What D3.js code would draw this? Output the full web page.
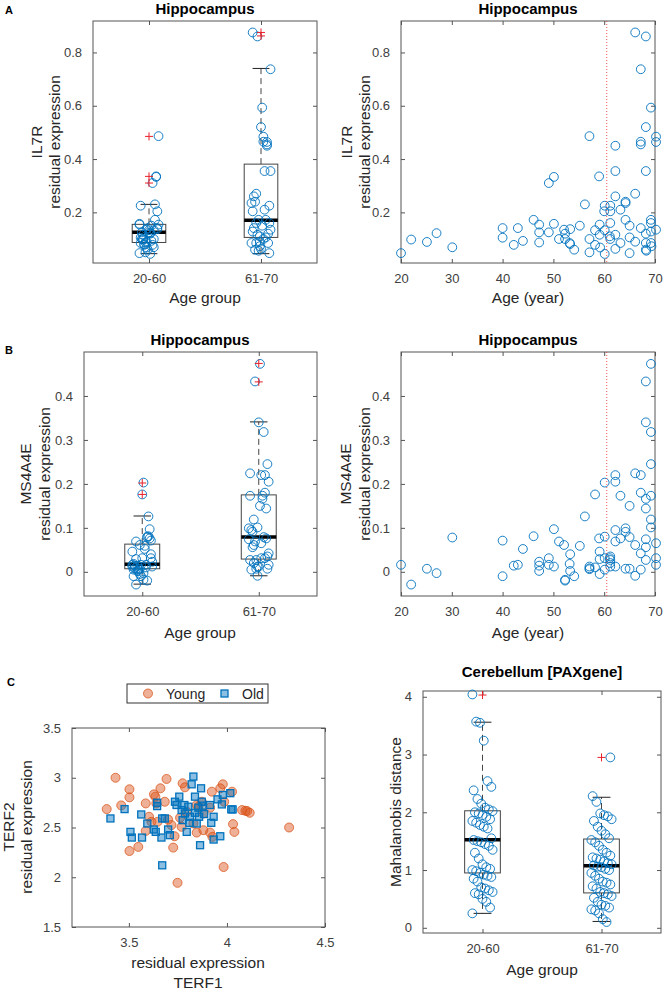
<!DOCTYPE html>
<html>
<head>
<meta charset="utf-8">
<title>Age and expression</title>
<style>
    body { margin: 0; background: #fff; }
    svg text { font-family: "Liberation Sans", Arial, sans-serif; }
    .tick-label { font-size: 13px; fill: #404040; }
    .axis-label { font-size: 15.5px; fill: #262626; text-anchor: middle; }
    .title { font-size: 15px; font-weight: bold; fill: #000; text-anchor: middle; }
    .letter { font-size: 11px; font-weight: bold; fill: #000; }
</style>
</head>
<body>
<svg id="fig" width="664" height="992"></svg>
<script src="https://d3js.org/d3.v7.min.js"></script>
<script>
// ---- data ----
var groups = ["20-60", "61-70"];

// A: IL7R residual expression vs age (hippocampus)
var ageA = [20, 22, 25.1, 27, 30.1, 40, 40, 42.2, 43, 44, 46.1, 47.2, 47.2, 47.2, 49.1, 49.1, 50.1, 50.1, 51.1, 52.1,
    52.3, 52.3, 53.3, 53.2, 53.3, 54.1, 55.2, 56.2, 57.1, 57.1, 57.1, 58.2, 58.2, 59, 59.1, 59.1, 59.2, 60.1, 60.1, 60, 60.1,
    61.2, 61.2, 61.2, 61.1, 61.2, 62.2, 62.2, 62.2, 62.2, 62.2, 63.2, 63.2, 64.2, 64.2, 64.2, 65, 65, 65, 66.1, 66.1, 66.1,
    67.2, 67.2, 67.2, 67.2, 68.2, 68.2, 68.2, 68.2, 68.2, 68.2, 68.3, 69.2, 69.2, 69.2, 69.2, 69.2, 69.3, 70.2, 70.2, 70.2];
var il7r = [0.047, 0.098, 0.089, 0.122, 0.069, 0.141, 0.105, 0.078, 0.141, 0.093, 0.172, 0.154, 0.125, 0.087, 0.125, 0.31, 0.333, 0.157, 0.1, 0.135,
    0.12, 0.1, 0.137, 0.085, 0.081, 0.06, 0.15, 0.23, 0.486, 0.1, 0.05, 0.133, 0.078, 0.335, 0.154, 0.116, 0.068, 0.044, 0.133, 0.204, 0.225,
    0.225, 0.204, 0.16, 0.11, 0.1, 0.45, 0.355, 0.26, 0.116, 0.063, 0.21, 0.085, 0.235, 0.24, 0.172, 0.15, 0.106, 0.047, 0.875, 0.27, 0.09,
    0.465, 0.455, 0.737, 0.141, 0.86, 0.52, 0.355, 0.12, 0.085, 0.06, 0.056, 0.593, 0.172, 0.16, 0.128, 0.085, 0.073, 0.484, 0.464, 0.135];
// [lower whisker, q1, median, q3, upper whisker]
var il7rBox = [[0.045, 0.087, 0.125, 0.155, 0.23], [0.045, 0.106, 0.17, 0.381, 0.74]];
var il7rOut = [[0.485, 0.335, 0.31], [0.875, 0.862]];

// B: MS4A4E residual expression vs age (hippocampus)
var ageB = [20, 22, 25.1, 27, 30.1, 40, 40, 42.2, 43, 44, 46.1, 47.2, 47.2, 47.2, 49.1, 49.1, 50.1, 50.1, 51.1, 52.1,
    52.3, 52.3, 53.3, 53.2, 53.3, 54.1, 55.2, 56.2, 57.1, 57.1, 57.1, 58.2, 58.2, 59, 59.1, 59.1, 59.1, 60.1, 60.1, 60.1, 60.1,
    61.2, 61.2, 61.2, 61.2, 61.1, 62.2, 62.2, 62.2, 62.2, 62.2, 63.2, 63.2, 64.2, 64.2, 64.2, 65, 65, 65, 66.1, 66.1, 66.1,
    67.2, 67.2, 67.2, 67.2, 68.2, 68.2, 68.2, 68.2, 68.2, 68.2, 68.2, 69.2, 69.2, 69.2, 69.2, 69.2, 69.2, 70.2, 70.2, 70.2];
var ms4a4e = [0.016, -0.029, 0.007, -0.003, 0.078, 0.071, -0.01, 0.014, 0.016, 0.052, 0.081, 0.023, 0.014, 0.002, 0.031, 0.016, 0.097, 0.012, 0.069, 0.061,
    -0.018, -0.02, 0.04, 0.018, 0.002, -0.01, 0.059, 0.126, 0.012, 0.008, 0.006, 0.176, 0.01, 0.076, 0.046, 0.029, -0.005, 0.203, 0.08, 0.031, 0.005,
    0.035, 0.027, 0.02, 0.012, 0.031, 0.22, 0.205, 0.095, 0.069, 0.012, 0.173, 0.076, 0.099, 0.091, 0.007, 0.15, 0.079, 0.007, 0.224, 0.061, -0.009,
    0.22, 0.18, 0.042, 0.005, 0.433, 0.34, 0.166, 0.144, 0.074, 0.056, 0.027, 0.473, 0.318, 0.245, 0.173, 0.119, 0.101, 0.065, 0.031, 0.016];
var ms4a4eBox = [[-0.028, 0.007, 0.017, 0.063, 0.127], [-0.009, 0.029, 0.079, 0.175, 0.341]];
var ms4a4eOut = [[0.202, 0.176], [0.474, 0.432]];

// C left: TERF1 vs TERF2
var youngTerf1 = [3.387, 3.432, 3.461, 3.503, 3.503, 3.503, 3.548, 3.586, 3.586, 3.603, 3.615, 3.628, 3.635, 3.64, 3.646, 3.661,
    3.683, 3.692, 3.7, 3.717, 3.726, 3.733, 3.748, 3.769, 3.774, 3.786, 3.795, 3.829, 3.846, 3.854, 3.872, 3.88, 3.914, 3.914,
    3.923, 3.926, 3.966, 3.979, 3.983, 3.986, 4.026, 4.031, 4.038, 4.077, 4.094, 4.103, 4.116, 4.317, 3.846, 3.761, 3.88];
var youngTerf2 = [2.685, 3.0, 2.722, 2.884, 2.803, 2.264, 2.305, 2.742, 2.466, 2.608, 2.557, 2.833, 2.81, 2.742, 2.557, 2.894,
    2.759, 2.988, 2.58, 2.524, 2.298, 2.412, 1.944, 2.507, 2.944, 2.904, 2.658, 2.54, 2.449, 2.709, 2.759, 2.473, 2.699, 2.449,
    2.86, 2.406, 2.894, 2.934, 2.103, 2.759, 2.86, 2.534, 2.456, 2.675, 2.668, 2.665, 2.648, 2.5, 2.726, 2.598, 2.641];
var oldTerf1 = [3.406, 3.478, 3.508, 3.515, 3.563, 3.567, 3.594, 3.627, 3.637, 3.644, 3.644, 3.666, 3.67, 3.67, 3.683, 3.7,
    3.709, 3.735, 3.743, 3.757, 3.769, 3.774, 3.783, 3.786, 3.795, 3.803, 3.808, 3.812, 3.82, 3.829, 3.837, 3.837, 3.846,
    3.854, 3.858, 3.863, 3.868, 3.872, 3.877, 3.884, 3.914, 3.92, 3.932, 3.932, 3.952, 3.966, 3.974, 3.979, 4.017, 4.022, 4.029];
var oldTerf2 = [2.591, 2.685, 2.456, 2.399, 2.631, 2.399, 2.54, 2.48, 2.456, 2.749, 2.715, 2.399, 2.591, 2.12, 2.591, 2.48,
    2.423, 2.759, 2.726, 2.81, 2.675, 2.574, 2.726, 2.641, 2.456, 2.709, 2.547, 2.608, 2.934, 3.012, 2.81, 2.648, 2.54,
    2.699, 2.608, 2.322, 2.894, 2.759, 2.719, 2.635, 2.726, 2.547, 2.608, 2.379, 2.783, 2.412, 2.732, 2.827, 2.845, 2.682, 2.682];

// C right: Mahalanobis distance (cerebellum, PAXgene)
var mahalYoung = [4.04, 3.57, 3.55, 3.24, 2.54, 2.44, 2.38, 2.23, 2.15, 2.08, 2.05, 2.02, 2.0, 1.98, 1.95, 1.92, 1.88, 1.85,
    1.82, 1.78, 1.75, 1.72, 1.55, 1.52, 1.5, 1.48, 1.45, 1.42, 1.35, 1.3, 1.2, 1.1, 1.05, 1.02, 1.0, 0.98, 0.95, 0.92, 0.9,
    0.88, 0.85, 0.8, 0.7, 0.68, 0.65, 0.62, 0.6, 0.58, 0.5, 0.45, 0.35, 0.25];
var mahalOld = [2.95, 2.28, 2.18, 1.98, 1.95, 1.93, 1.88, 1.85, 1.75, 1.68, 1.62, 1.55, 1.52, 1.48, 1.42, 1.35, 1.3, 1.25,
    1.22, 1.2, 1.18, 1.15, 1.12, 1.1, 1.08, 1.06, 1.05, 1.02, 1.0, 0.95, 0.9, 0.85, 0.8, 0.78, 0.75, 0.72, 0.68, 0.62, 0.6,
    0.58, 0.55, 0.52, 0.45, 0.4, 0.38, 0.35, 0.32, 0.3, 0.25, 0.15, 0.1];
var mahalBox = [[0.25, 0.95, 1.525, 2.026, 3.56], [0.11, 0.604, 1.076, 1.537, 2.26]];
var mahalOut = [[4.03], [2.95]];

var blue = "#0072BD", orange = "#D95319";
var svg = d3.select("#fig");

// axes box with matlab style inward ticks on all sides
function axesFrame(o) {
    var x = d3.scaleLinear().domain(o.xDomain).range([o.left, o.right]);
    var y = d3.scaleLinear().domain(o.yDomain).range([o.bottom, o.top]);
    var g = svg.append("g");
    var plain = d3.format("~g");
    g.append("g").attr("transform", "translate(0," + o.bottom + ")")
        .call(d3.axisBottom(x).tickValues(o.xTicks).tickSize(-4).tickPadding(11).tickFormat(o.xFormat || plain));
    g.append("g").attr("transform", "translate(0," + o.top + ")")
        .call(d3.axisTop(x).tickValues(o.xTicks).tickSize(-4).tickFormat(""));
    g.append("g").attr("transform", "translate(" + o.left + ",0)")
        .call(d3.axisLeft(y).tickValues(o.yTicks).tickSize(-4).tickPadding(11).tickFormat(o.yFormat || plain));
    g.append("g").attr("transform", "translate(" + o.right + ",0)")
        .call(d3.axisRight(y).tickValues(o.yTicks).tickSize(-4).tickFormat(""));
    g.selectAll(".domain").remove();
    g.selectAll(".tick line").attr("stroke", "#555");
    g.selectAll(".tick text").attr("class", "tick-label");
    g.append("rect")
        .attr("x", o.left).attr("y", o.top)
        .attr("width", o.right - o.left).attr("height", o.bottom - o.top)
        .attr("fill", "none").attr("stroke", "#555");
    var plot = svg.append("g");
    return { x: x, y: y, g: plot, o: o };
}

function yLabel(lines, xs, yc) {
    lines.forEach(function (t, i) {
        svg.append("text").attr("class", "axis-label")
            .attr("transform", "translate(" + xs[i] + "," + yc + ") rotate(-90)")
            .attr("dy", "0.35em").text(t);
    });
}

function textAt(cls, x, y, t) {
    svg.append("text").attr("class", cls).attr("x", x).attr("y", y).text(t);
}

var fmt1 = function (d) { return d === 0 ? "0" : d3.format(".1f")(d); };

// deterministic spread of points around a box centre
function jitter(i) {
    return (((i * 37) % 17) / 16 - 0.5) * 0.17;
}

function drawBoxes(ax, stats, outliers, groupVals) {
    var x = ax.x, y = ax.y, g = ax.g;
    stats.forEach(function (s, i) {
        var c = i + 1;
        var lo = s[0], q1 = s[1], med = s[2], q3 = s[3], hi = s[4];
        [[q3, hi], [q1, lo]].forEach(function (w) {
            g.append("line").attr("x1", x(c)).attr("x2", x(c))
                .attr("y1", y(w[0])).attr("y2", y(w[1]))
                .attr("stroke", "#444").attr("stroke-dasharray", "6,4");
            g.append("line").attr("x1", x(c - 0.075)).attr("x2", x(c + 0.075))
                .attr("y1", y(w[1])).attr("y2", y(w[1])).attr("stroke", "#222");
        });
        g.append("rect").attr("x", x(c - 0.15)).attr("y", y(q3))
            .attr("width", x(c + 0.15) - x(c - 0.15)).attr("height", y(q1) - y(q3))
            .attr("fill", "none").attr("stroke", "#444");
        g.append("line").attr("x1", x(c - 0.15)).attr("x2", x(c + 0.15))
            .attr("y1", y(med)).attr("y2", y(med))
            .attr("stroke", "#000").attr("stroke-width", 3.5);
    });
    groupVals.forEach(function (vals, gi) {
        g.selectAll(null).data(vals).join("circle")
            .attr("cx", function (d, i) { return x(gi + 1 + jitter(i + gi * 5)); })
            .attr("cy", function (d) { return y(d); })
            .attr("r", 4.4).attr("fill", "none").attr("stroke", blue).attr("stroke-width", 0.9);
    });
    outliers.forEach(function (vals, gi) {
        g.selectAll(null).data(vals).join("path")
            .attr("d", "M-4,0H4M0,-4V4")
            .attr("transform", function (d) { return "translate(" + x(gi + 1) + "," + y(d) + ")"; })
            .attr("stroke", "#e8202a").attr("stroke-width", 1);
    });
}

function drawAgeScatter(ax, ages, vals) {
    ax.g.selectAll(null).data(vals).join("circle")
        .attr("cx", function (d, i) { return ax.x(ages[i]); })
        .attr("cy", function (d) { return ax.y(d); })
        .attr("r", 4.4).attr("fill", "none").attr("stroke", blue).attr("stroke-width", 0.9);
    ax.g.append("line")
        .attr("x1", ax.x(60.5)).attr("x2", ax.x(60.5))
        .attr("y1", ax.o.top).attr("y2", ax.o.bottom)
        .attr("stroke", "#f03030").attr("stroke-opacity", 0.8).attr("stroke-dasharray", "1,2");
}

function splitByAge(ages, vals) {
    return [vals.filter(function (d, i) { return ages[i] <= 60.5; }),
            vals.filter(function (d, i) { return ages[i] > 60.5; })];
}

var groupFmt = function (d) { return groups[d - 1]; };

// ---- A ----
var aL = axesFrame({ left: 93, right: 317, top: 21, bottom: 263, xDomain: [0.5, 2.5], yDomain: [0.01, 0.918],
    xTicks: [1, 2], yTicks: [0.2, 0.4, 0.6, 0.8], xFormat: groupFmt, yFormat: fmt1 });
drawBoxes(aL, il7rBox, il7rOut, splitByAge(ageA, il7r));
var aR = axesFrame({ left: 401, right: 655, top: 21, bottom: 263, xDomain: [20, 70], yDomain: [0.01, 0.918],
    xTicks: [20, 30, 40, 50, 60, 70], yTicks: [0.2, 0.4, 0.6, 0.8], yFormat: fmt1 });
drawAgeScatter(aR, ageA, il7r);
textAt("title", 205, 14, "Hippocampus");
textAt("title", 528, 14, "Hippocampus");
textAt("axis-label", 205, 303, "Age group");
textAt("axis-label", 528, 303, "Age (year)");
yLabel(["IL7R", "residual expression"], [37, 55], 142);
yLabel(["IL7R", "residual expression"], [347, 365], 142);
textAt("letter", 5, 14, "A");

// ---- B ----
var bL = axesFrame({ left: 84, right: 317, top: 352, bottom: 596, xDomain: [0.5, 2.5], yDomain: [-0.055, 0.5],
    xTicks: [1, 2], yTicks: [0, 0.1, 0.2, 0.3, 0.4], xFormat: groupFmt, yFormat: fmt1 });
drawBoxes(bL, ms4a4eBox, ms4a4eOut, splitByAge(ageB, ms4a4e));
var bR = axesFrame({ left: 401, right: 655, top: 352, bottom: 596, xDomain: [20, 70], yDomain: [-0.055, 0.5],
    xTicks: [20, 30, 40, 50, 60, 70], yTicks: [0, 0.1, 0.2, 0.3, 0.4], yFormat: fmt1 });
drawAgeScatter(bR, ageB, ms4a4e);
textAt("title", 200, 345, "Hippocampus");
textAt("title", 528, 345, "Hippocampus");
textAt("axis-label", 200, 638, "Age group");
textAt("axis-label", 528, 638, "Age (year)");
yLabel(["MS4A4E", "residual expression"], [26, 45], 474);
yLabel(["MS4A4E", "residual expression"], [346, 365], 474);
textAt("letter", 5, 354, "B");

// ---- C left: TERF scatter ----
var cL = axesFrame({ left: 72, right: 325, top: 728, bottom: 927, xDomain: [3.21, 4.5], yDomain: [1.5, 3.5],
    xTicks: [3.5, 4, 4.5], yTicks: [1.5, 2, 2.5, 3, 3.5] });
cL.g.selectAll(null).data(youngTerf2).join("circle")
    .attr("cx", function (d, i) { return cL.x(youngTerf1[i]); })
    .attr("cy", function (d) { return cL.y(d); })
    .attr("r", 4.5).attr("fill", orange).attr("fill-opacity", 0.45)
    .attr("stroke", orange).attr("stroke-opacity", 0.75);
cL.g.selectAll(null).data(oldTerf2).join("rect")
    .attr("x", function (d, i) { return cL.x(oldTerf1[i]) - 3.5; })
    .attr("y", function (d) { return cL.y(d) - 3.5; })
    .attr("width", 7).attr("height", 7)
    .attr("fill", blue).attr("fill-opacity", 0.45)
    .attr("stroke", blue).attr("stroke-width", 1.3);
textAt("axis-label", 198, 968, "residual expression");
textAt("axis-label", 198, 988, "TERF1");
yLabel(["TERF2", "residual expression"], [9, 27], 827);
textAt("letter", 7, 686, "C");

// legend
var leg = svg.append("g");
leg.append("rect").attr("x", 127).attr("y", 684).attr("width", 141).attr("height", 19)
    .attr("fill", "#fff").attr("stroke", "#333");
leg.append("circle").attr("cx", 148).attr("cy", 693.5).attr("r", 4.5)
    .attr("fill", orange).attr("fill-opacity", 0.45).attr("stroke", orange).attr("stroke-opacity", 0.75);
leg.append("text").attr("x", 166).attr("y", 698.5).attr("font-size", 14).attr("fill", "#262626").text("Young");
leg.append("rect").attr("x", 221).attr("y", 690).attr("width", 7).attr("height", 7)
    .attr("fill", blue).attr("fill-opacity", 0.45).attr("stroke", blue).attr("stroke-width", 1.3);
leg.append("text").attr("x", 242).attr("y", 698.5).attr("font-size", 14).attr("fill", "#262626").text("Old");

// ---- C right: Mahalanobis box plot ----
var cR = axesFrame({ left: 423, right: 661, top: 691, bottom: 933, xDomain: [0.5, 2.5], yDomain: [-0.09, 4.1],
    xTicks: [1, 2], yTicks: [0, 1, 2, 3, 4], xFormat: groupFmt });
drawBoxes(cR, mahalBox, mahalOut, [mahalYoung, mahalOld]);
textAt("title", 542, 677, "Cerebellum [PAXgene]");
textAt("axis-label", 542, 975, "Age group");
yLabel(["Mahalanobis distance"], [396], 812);
</script>
</body>
</html>
